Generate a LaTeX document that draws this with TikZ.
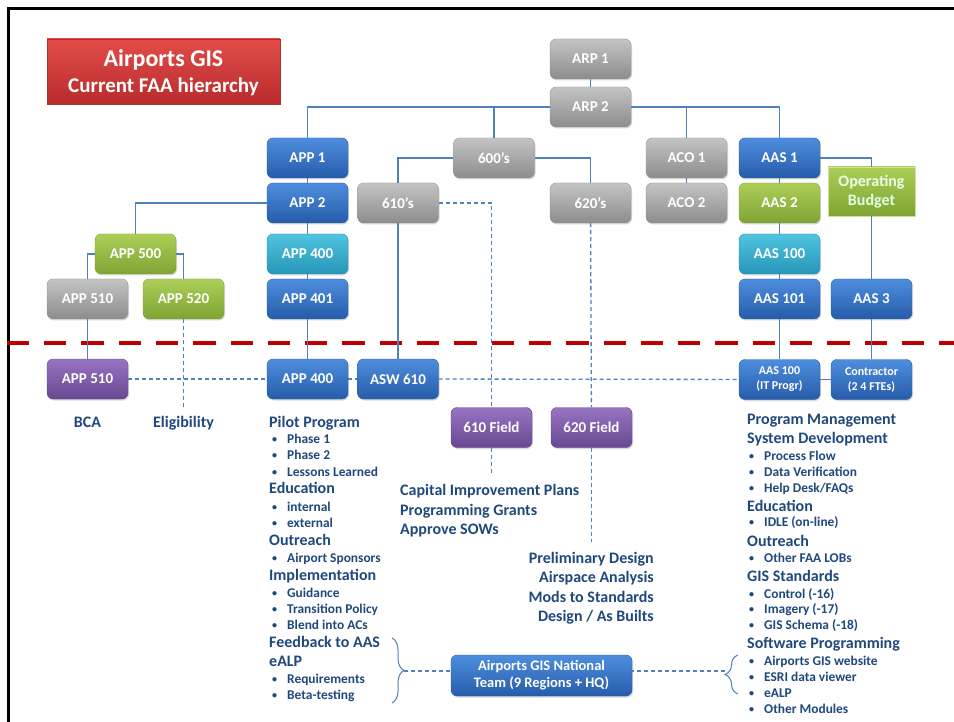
\documentclass[tikz,border=0pt]{standalone}
\usepackage{fontspec}
\setmainfont{Carlito}
\usetikzlibrary{decorations.pathreplacing,shadows}
\definecolor{txtblue}{RGB}{31,73,125}
\definecolor{connblue}{RGB}{79,129,189}
\definecolor{dashred}{RGB}{192,0,0}
\definecolor{grayA}{RGB}{196,196,196}
\definecolor{grayB}{RGB}{140,140,140}
\definecolor{grayD}{RGB}{150,150,150}
\definecolor{blueA}{RGB}{78,142,222}
\definecolor{blueB}{RGB}{38,92,170}
\definecolor{blueD}{RGB}{40,90,160}
\definecolor{greenA}{RGB}{172,206,88}
\definecolor{greenB}{RGB}{128,164,52}
\definecolor{greenD}{RGB}{130,160,60}
\definecolor{cyanA}{RGB}{80,196,224}
\definecolor{cyanB}{RGB}{38,150,184}
\definecolor{cyanD}{RGB}{40,140,170}
\definecolor{purpA}{RGB}{152,116,194}
\definecolor{purpB}{RGB}{104,72,146}
\definecolor{purpD}{RGB}{100,72,140}
\definecolor{redA}{RGB}{226,76,72}
\definecolor{redB}{RGB}{184,44,44}
\newcommand{\bdot}{\makebox[15pt][l]{\raisebox{0.5pt}{\fontsize{10}{10}\selectfont •}}}
\begin{document}
\begin{tikzpicture}[x=1pt,y=-1pt,
  box/.style={rounded corners=6pt, minimum width=81pt, minimum height=40pt, inner sep=1pt,
    text=white, align=center, font=\bfseries\fontsize{15}{16}\selectfont,
    drop shadow={shadow xshift=1pt, shadow yshift=-1.5pt, opacity=0.3}},
  graybox/.style={box, top color=grayA, bottom color=grayB, draw=grayD},
  bluebox/.style={box, top color=blueA, bottom color=blueB, draw=blueD},
  greenbox/.style={box, top color=greenA, bottom color=greenB, draw=greenD},
  cyanbox/.style={box, top color=cyanA, bottom color=cyanB, draw=cyanD},
  purplebox/.style={box, top color=purpA, bottom color=purpB, draw=purpD},
  smalltxt/.style={font=\bfseries\fontsize{12}{15}\selectfont},
  conn/.style={draw=connblue, line width=1.3pt},
  dots/.style={draw=connblue, line width=1.3pt, dash pattern=on 4pt off 3pt},
  head/.style={anchor=base west, inner sep=0, text=txtblue, font=\bfseries\fontsize{16}{18}\selectfont},
  item/.style={anchor=base west, inner sep=0, text=txtblue, font=\bfseries\fontsize{13.4}{15}\selectfont},
  brc/.style={draw=connblue, line width=1pt, decorate}
]
\useasboundingbox (0,0) rectangle (954,722);
\fill[white] (0,0) rectangle (954,722);
\draw[line width=2.5pt] (8.5,722) -- (8.5,8.5) -- (954,8.5);

% title
\node[top color=redA, bottom color=redB, draw=redB, minimum width=233pt, minimum height=65pt,
  text=white, inner sep=0,
  drop shadow={shadow xshift=1pt, shadow yshift=-1.5pt, opacity=0.3}] (title) at (163.5,71.5) {};
\node[text=white, inner sep=0, anchor=base, font=\bfseries\fontsize{24}{26}\selectfont] (title1) at (163.5,67) {Airports GIS};
\node[text=white, inner sep=0, anchor=base, font=\bfseries\fontsize{21}{24}\selectfont] (title2) at (163.5,93) {Current FAA hierarchy};

% red separator
\draw[dashred, line width=4.5pt, dash pattern=on 22.3pt off 15pt] (6.7,343) -- (954,343);

% boxes
\node[graybox] (arp1) at (590.5,59) {ARP 1};
\node[graybox] (arp2) at (590.5,107) {ARP 2};
\node[bluebox] (app1) at (307.5,158) {APP 1};
\node[bluebox] (app2) at (307.5,203) {APP 2};
\node[graybox] (s600) at (494,158) {600’s};
\node[graybox] (s610) at (398,203) {610’s};
\node[graybox] (s620) at (590.5,203) {620’s};
\node[graybox] (aco1) at (686.5,158) {ACO 1};
\node[graybox] (aco2) at (686.5,203) {ACO 2};
\node[bluebox] (aas1) at (779.5,158) {AAS 1};
\node[greenbox] (aas2) at (779.5,203) {AAS 2};
\node[cyanbox] (aas100) at (779.5,254) {AAS 100};
\node[bluebox] (aas101) at (779.5,299) {AAS 101};
\node[top color=greenA, bottom color=greenB, draw=greenA!60!white, minimum width=87pt, minimum height=49pt,
  inner sep=0, align=center, text=green!10!white, font=\bfseries\fontsize{16}{19}\selectfont,
  drop shadow={shadow xshift=1pt, shadow yshift=-1.5pt, opacity=0.3}] (opb) at (871.5,191.5) {Operating\\Budget};
\node[bluebox] (aas3) at (871.5,299) {AAS 3};
\node[greenbox] (app500) at (135.5,254) {APP 500};
\node[graybox] (app510g) at (87.5,299) {APP 510};
\node[greenbox] (app520) at (183.5,299) {APP 520};
\node[cyanbox] (app400c) at (307.5,254) {APP 400};
\node[bluebox] (app401) at (307.5,299) {APP 401};
\node[purplebox] (app510p) at (87.5,379) {APP 510};
\node[bluebox] (app400b) at (307.5,379) {APP 400};
\node[bluebox] (asw610) at (398,379) {ASW 610};
\node[purplebox] (f610) at (491.5,427.5) {610 Field};
\node[purplebox] (f620) at (591.5,427.5) {620 Field};
\node[bluebox, smalltxt] (aasit) at (779.5,379.5) {AAS 100\\(IT Progr)};
\node[bluebox, smalltxt] (contr) at (871.5,379.5) {Contractor\\(2 4 FTEs)};
\node[bluebox, minimum width=181pt, minimum height=41pt, font=\bfseries\fontsize{14.5}{17}\selectfont] (natl) at (541.5,675.5) {Airports GIS National\\Team (9 Regions + HQ)};

% solid connectors
\draw[conn] (arp1) -- (arp2);
\draw[conn] (arp2.west) -| (app1.north);
\draw[conn] (arp2.east) -| (aas1.north);
\draw[conn] (s600.north) -- (s600.north |- arp2.west);
\draw[conn] (aco1.north) -- (aco1.north |- arp2.east);
\draw[conn] (app1) -- (app2);
\draw[conn] (app2.west) -| (app500.north);
\draw[conn] (app500.west) -| (app510g.north);
\draw[conn] (app500.east) -| (app520.north);
\draw[conn] (app2) -- (app400c);
\draw[conn] (app400c) -- (app401);
\draw[conn] (app401) -- (app400b);
\draw[conn] (app510g) -- (app510p);
\draw[conn] (s600.west) -| (s610.north);
\draw[conn] (s600.east) -| (s620.north);
\draw[conn] (s610) -- (asw610);
\draw[conn] (aco1) -- (aco2);
\draw[conn] (aas1) -- (aas2);
\draw[conn] (aas2) -- (aas100);
\draw[conn] (aas100) -- (aas101);
\draw[conn] (aas101) -- (aasit);
\draw[conn] (aas1.east) -| (opb.north);
\draw[conn] (opb) -- (aas3);
\draw[conn] (aas3) -- (contr);
\draw[conn] (aasit) -- (contr);

% dotted connectors
\coordinate (eligtop) at (183.5,407);
\coordinate (f610end) at (491.5,475);
\coordinate (f620end) at (591.5,542);
\coordinate (lbt) at (404,671);
\coordinate (rbt) at (725,671);
\draw[dots] (app510p) -- (app400b);
\draw[dots] (app400b) -- (asw610);
\draw[dots] (asw610) -- (aasit);
\draw[dots] (app520) -- (eligtop);
\draw[dots] (s610.east) -| (f610.north);
\draw[dots] (f610) -- (f610end);
\draw[dots] (s620) -- (f620);
\draw[dots] (f620) -- (f620end);
\draw[dots] (lbt) -- (lbt -| natl.west);
\draw[dots] (rbt) -- (rbt -| natl.east);

% braces
\draw[brc, decoration={brace, amplitude=12pt}] (392,638) -- (392,703);
\draw[brc, decoration={brace, amplitude=13pt}] (738,694) -- (738,655);

% labels under left boxes
\node[anchor=base, inner sep=0, text=txtblue, font=\bfseries\fontsize{16}{18}\selectfont] (bca) at (87.5,427) {BCA};
\node[anchor=base, inner sep=0, text=txtblue, font=\bfseries\fontsize{16}{18}\selectfont] (elig) at (183.5,427) {Eligibility};

% left list
\node[head] (l1) at (269,427) {Pilot Program};
\node[item] (l2) at (272,443) {\bdot Phase 1};
\node[item] (l3) at (272,459) {\bdot Phase 2};
\node[item] (l4) at (272,476) {\bdot Lessons Learned};
\node[head] (l5) at (269,493) {Education};
\node[item] (l6) at (272,511) {\bdot internal};
\node[item] (l7) at (272,527) {\bdot external};
\node[head] (l8) at (269,545) {Outreach};
\node[item] (l9) at (272,562) {\bdot Airport Sponsors};
\node[head] (l10) at (269,580) {Implementation};
\node[item] (l11) at (272,597) {\bdot Guidance};
\node[item] (l12) at (272,613) {\bdot Transition Policy};
\node[item] (l13) at (272,629) {\bdot Blend into ACs};
\node[head] (l14) at (269,647) {Feedback to AAS};
\node[head] (l15) at (269,666) {eALP};
\node[item] (l16) at (272,683) {\bdot Requirements};
\node[item] (l17) at (272,699) {\bdot Beta-testing};

% centre lists
\node[head] (c1) at (400,495) {Capital Improvement Plans};
\node[head] (c2) at (400,515) {Programming Grants};
\node[head] (c3) at (400,534) {Approve SOWs};
\node[head, anchor=base east] (p1) at (654,563) {Preliminary Design};
\node[head, anchor=base east] (p2) at (654,582) {Airspace Analysis};
\node[head, anchor=base east] (p3) at (654,602) {Mods to Standards};
\node[head, anchor=base east] (p4) at (654,621) {Design / As Builts};

% right list
\node[head] (r1) at (747,424) {Program Management};
\node[head] (r2) at (747,443) {System Development};
\node[item] (r3) at (749,460) {\bdot Process Flow};
\node[item] (r4) at (749,476) {\bdot Data Verification};
\node[item] (r5) at (749,492) {\bdot Help Desk/FAQs};
\node[head] (r6) at (747,511) {Education};
\node[item] (r7) at (749,526) {\bdot IDLE (on-line)};
\node[head] (r8) at (747,546) {Outreach};
\node[item] (r9) at (749,562) {\bdot Other FAA LOBs};
\node[head] (r10) at (747,581) {GIS Standards};
\node[item] (r11) at (749,598) {\bdot Control (-16)};
\node[item] (r12) at (749,613) {\bdot Imagery (-17)};
\node[item] (r13) at (749,629) {\bdot GIS Schema (-18)};
\node[head] (r14) at (747,648) {Software Programming};
\node[item] (r15) at (749,665) {\bdot Airports GIS website};
\node[item] (r16) at (749,681) {\bdot ESRI data viewer};
\node[item] (r17) at (749,697) {\bdot eALP};
\node[item] (r18) at (749,713) {\bdot Other Modules};
\end{tikzpicture}
\end{document}
